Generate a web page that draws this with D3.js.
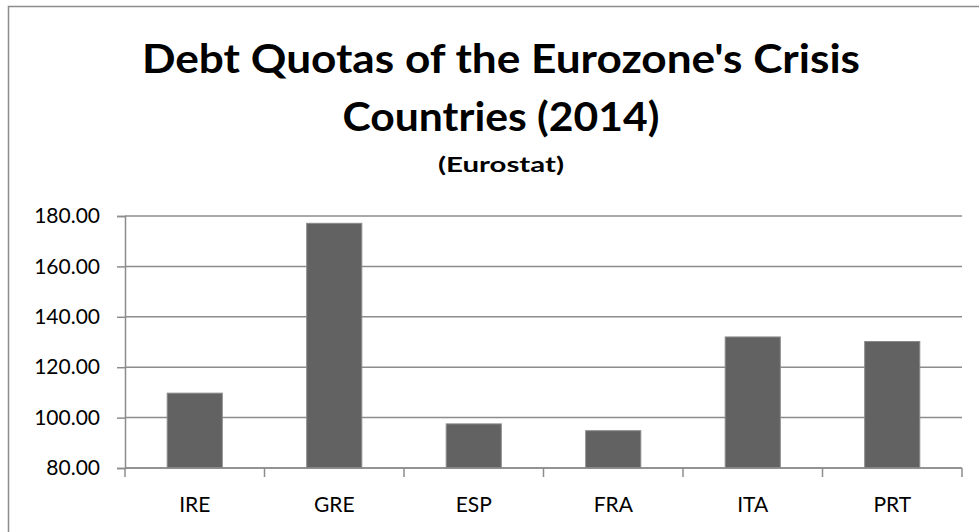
<!DOCTYPE html>
<html>
<head>
<meta charset="utf-8">
<script src="https://cdn.jsdelivr.net/npm/d3@7"></script>
<style>
  html, body { margin: 0; padding: 0; background: #fff; }
  text { font-family: Lato, "Open Sans", sans-serif; }
</style>
</head>
<body>
<div id="chart_area"></div>
<script>
// data
const countries = ['IRE', 'GRE', 'ESP', 'FRA', 'ITA', 'PRT'];
const debtQuotas = [109.7, 177.1, 97.5, 94.8, 132.0, 130.2];
const yTicks = [80, 100, 120, 140, 160, 180];
const titleLines = ["Debt Quotas of the Eurozone's Crisis", 'Countries (2014)'];
const subtitle = '(Eurostat)';

// dimensions and margins of the graph
const W = 979, H = 532;
const margin = { top: 216, right: 17, bottom: 64, left: 125 };
const width = W - margin.left - margin.right;
const height = H - margin.top - margin.bottom;

const grey = '#8c8c8c';

const svg = d3
  .select('#chart_area')
  .append('svg')
  .attr('width', W)
  .attr('height', H);

// chart frame (runs off the bottom/right of the picture)
svg.append('rect')
  .attr('x', 8.5).attr('y', 6.5)
  .attr('width', W + 10).attr('height', H + 10)
  .attr('fill', 'none')
  .attr('stroke', grey)
  .attr('stroke-width', 1.5);

// titles - Calibri-like narrow look: squeeze to the reference widths
const cx = 501;
function title(txt, y, size, len) {
  return svg.append('text')
    .attr('x', cx).attr('y', y)
    .attr('text-anchor', 'middle')
    .attr('font-weight', 'bold')
    .attr('font-size', size)
    .attr('textLength', len)
    .attr('lengthAdjust', 'spacingAndGlyphs')
    .text(txt);
}
title(titleLines[0], 72.5, 41, 718);
title(titleLines[1], 130.5, 41, 317);
title(subtitle, 172, 21, 126);

const g = svg.append('g')
  .attr('transform', 'translate(' + margin.left + ',' + margin.top + ')');

// scales
const x = d3.scaleBand().domain(countries).range([0, width]).padding(0);
const y = d3.scaleLinear().domain([80, 180]).range([height, 0]);

// gridlines
g.append('g')
  .selectAll('line')
  .data(yTicks)
  .enter()
  .append('line')
  .attr('x1', 0).attr('x2', width)
  .attr('y1', d => y(d)).attr('y2', d => y(d))
  .attr('stroke', grey)
  .attr('stroke-width', 1.5);

// bars
const barRatio = 0.395;
g.append('g')
  .selectAll('rect')
  .data(countries)
  .enter()
  .append('rect')
  .attr('x', d => x(d) + x.bandwidth() * (1 - barRatio) / 2)
  .attr('width', x.bandwidth() * barRatio)
  .attr('y', (d, i) => y(debtQuotas[i]))
  .attr('height', (d, i) => height - y(debtQuotas[i]))
  .attr('fill', '#626262')
  .attr('stroke', '#8a8a8a')
  .attr('stroke-width', 1);

// y axis
const yAxis = g.append('g')
  .call(d3.axisLeft(y).tickValues(yTicks).tickFormat(d3.format('.2f')).tickSize(8).tickPadding(17));
yAxis.select('.domain').attr('stroke', grey).attr('stroke-width', 1.5);
yAxis.selectAll('.tick line').attr('stroke', grey).attr('stroke-width', 1.5);
yAxis.selectAll('.tick text')
  .attr('font-family', 'Lato, sans-serif')
  .attr('font-size', 21)
  .attr('fill', '#000');

// x axis
const xAxis = g.append('g').attr('transform', 'translate(0,' + height + ')');
xAxis.append('line')
  .attr('x1', 0).attr('x2', width)
  .attr('stroke', grey).attr('stroke-width', 1.5);
xAxis.selectAll('line.tick')
  .data(countries.concat(['end']))
  .enter()
  .append('line')
  .attr('class', 'tick')
  .attr('x1', (d, i) => i * x.step()).attr('x2', (d, i) => i * x.step())
  .attr('y1', 0).attr('y2', 9)
  .attr('stroke', grey).attr('stroke-width', 1.5);
xAxis.selectAll('text')
  .data(countries)
  .enter()
  .append('text')
  .attr('x', d => x(d) + x.bandwidth() / 2)
  .attr('y', 44)
  .attr('text-anchor', 'middle')
  .attr('font-size', 21)
  .attr('fill', '#000')
  .text(d => d);
</script>
</body>
</html>
